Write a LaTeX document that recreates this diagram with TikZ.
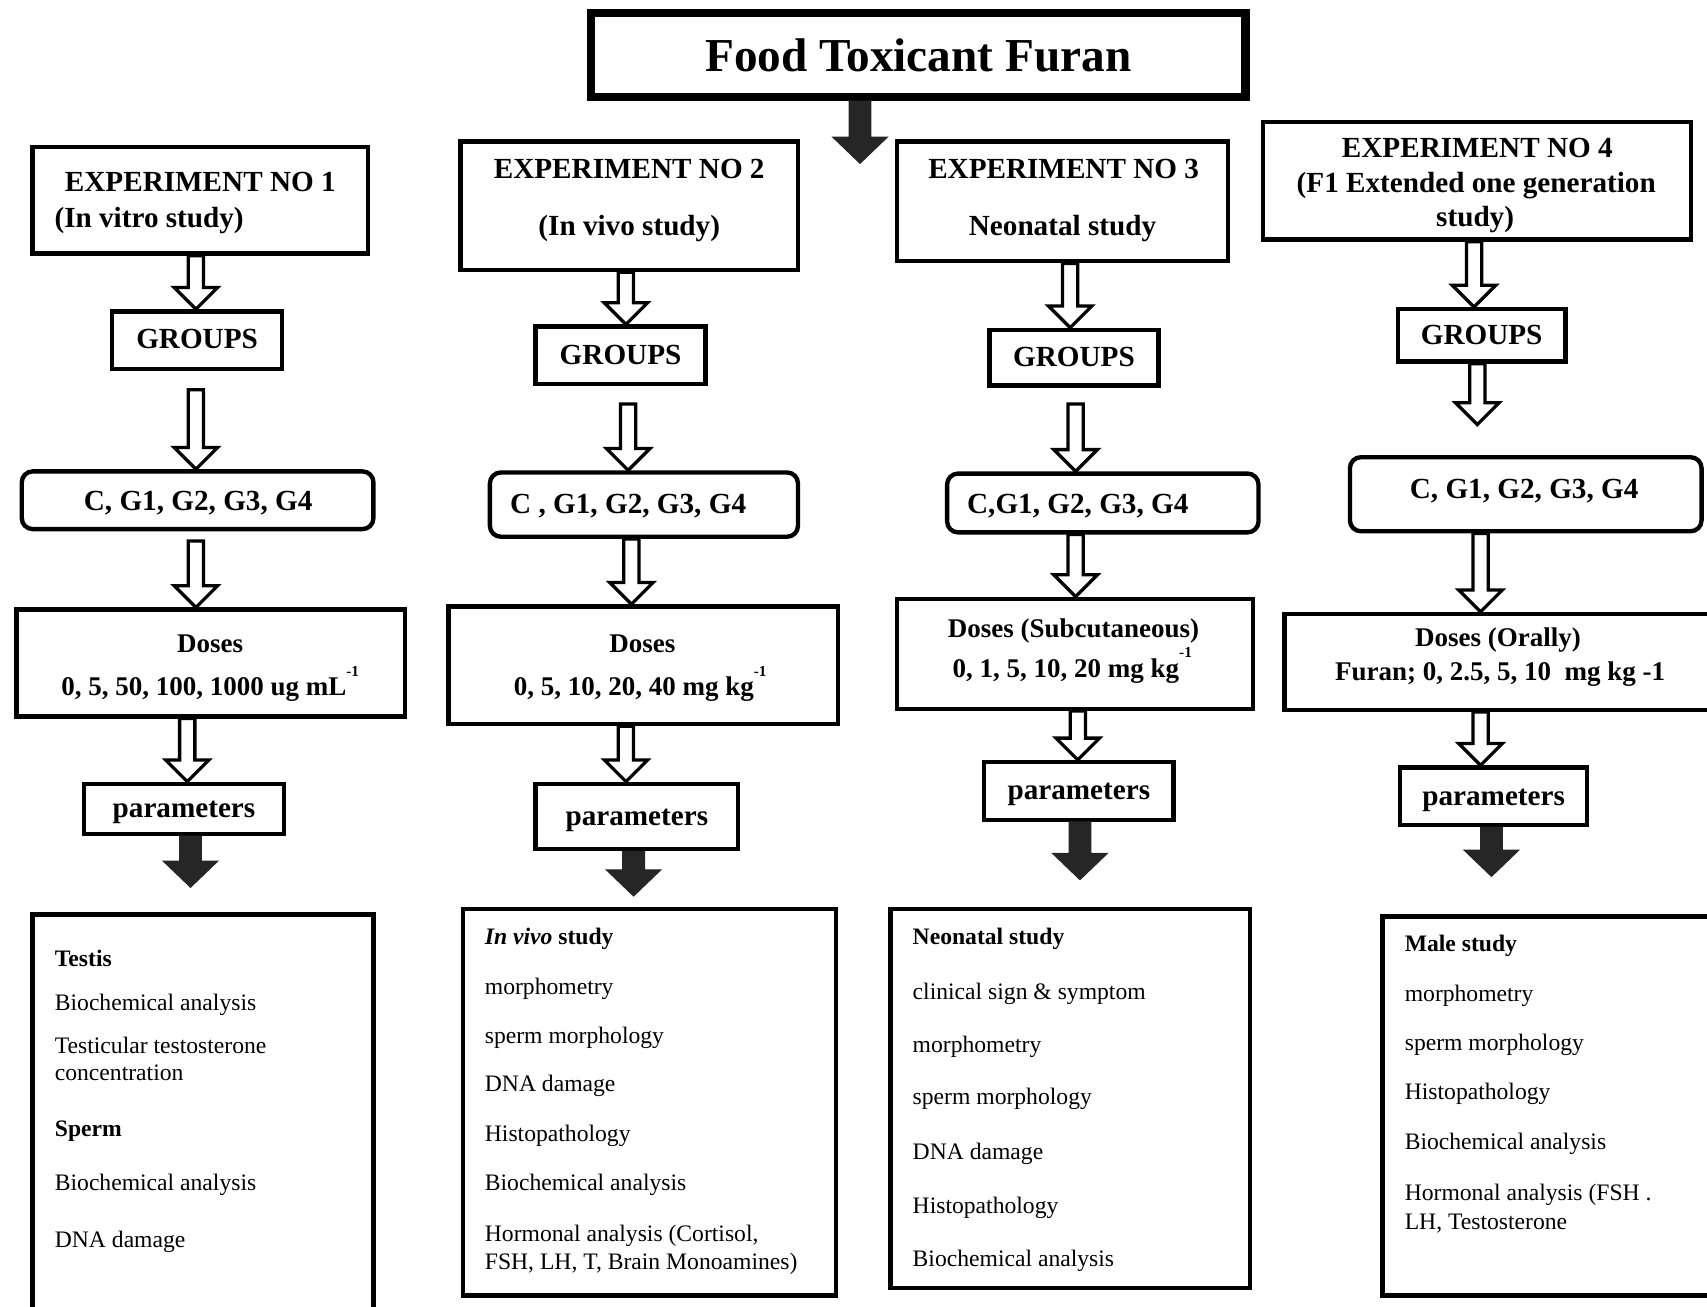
\documentclass[tikz,border=0pt]{standalone}
\usepackage{fontspec}
\setmainfont{Liberation Serif}
\usetikzlibrary{calc}
\newcommand\supmone{\raisebox{0.72em}{\fontsize{7}{7}\selectfont -1}}
% #1 style, #2 start, #3 end (only y used), #4 shaft half width, #5 head half width, #6 head length
\newcommand\varrow[6]{%
  \path[#1] let \p1=#2, \p2=#3 in
    (\x1-#4,\y1) -- (\x1+#4,\y1) -- (\x1+#4,\y2+#6) -- (\x1+#5,\y2+#6) -- (\x1,\y2)
    -- (\x1-#5,\y2+#6) -- (\x1-#4,\y2+#6) -- cycle;}
\newcommand\harrow[2]{\varrow{hol}{#1}{#2}{3.5pt}{10pt}{10pt}}
\newcommand\sarrow[2]{\varrow{sol}{#1}{#2}{5pt}{12.5pt}{12pt}}
\begin{document}
\begin{tikzpicture}[x=0.5pt,y=-0.5pt,
  wh/.style 2 args={minimum width=#1*0.5pt, minimum height=#2*0.5pt},
  box/.style={draw=black, line width=2pt, inner sep=0pt},
  rbox/.style={box, rounded corners=5pt},
  hdr/.style={font=\fontsize{13.4}{16}\selectfont\bfseries, inner sep=0pt, text height=0.95em, text depth=0.15em},
  dose/.style={font=\fontsize{12.4}{15}\selectfont\bfseries, inner sep=0pt, text height=0.95em, text depth=0.15em},
  rt/.style={font=\fontsize{10.85}{13}\selectfont, anchor=west, inner sep=0pt, text height=0.92em, text depth=0.14em},
  hol/.style={draw=black, fill=white, line width=1.5pt, line join=miter},
  sol/.style={draw=black!85, fill=black!85, line width=0.5pt, line join=miter}]
\clip (0,0) rectangle (1568,1200);
\fill[white] (0,0) rectangle (1568,1200);

% title
\node[box, line width=4pt, wh={601}{77}, font=\fontsize{21.7}{26}\selectfont\bfseries] (title) at (843.5,50.5) {Food Toxicant Furan};
\coordinate (tend) at (790,150);
\sarrow{($(title.south)+(-53.5,0)$)}{(tend)}

% experiment boxes
\node[box, wh={308}{98}] (e1) at (184,184) {};
\node[hdr] (e1a) at (184,168) {EXPERIMENT NO 1};
\node[hdr] (e1b) at (137,201) {(In vitro study)};
\node[box, wh={310}{118}] (e2) at (578,189) {};
\node[hdr] (e2a) at (578,156) {EXPERIMENT NO 2};
\node[hdr] (e2b) at (578,208) {(In vivo study)};
\node[box, wh={304}{110}] (e3) at (976,185) {};
\node[hdr] (e3a) at (977,156) {EXPERIMENT NO 3};
\node[hdr] (e3b) at (976,208) {Neonatal study};
\node[box, wh={393}{108}] (e4) at (1356.5,166) {};
\node[hdr] (e4a) at (1357,137) {EXPERIMENT NO 4};
\node[hdr] (e4b) at (1356,169) {(F1 Extended one generation};
\node[hdr] (e4c) at (1355,200) {study)};

% groups
\node[box, hdr, wh={156}{53}] (g1) at (181,312.5) {GROUPS};
\node[box, hdr, wh={156}{53}] (g2) at (570,326.5) {GROUPS};
\node[box, hdr, wh={155}{51}] (g3) at (986.5,328.5) {GROUPS};
\node[box, hdr, wh={154}{48}] (g4) at (1361,308) {GROUPS};

% C, G boxes
\node[rbox, wh={323}{53}] (c1) at (181.5,459.5) {};
\node[hdr] (c1t) at (182,461) {C, G1, G2, G3, G4};
\node[rbox, wh={283}{59}] (c2) at (591.5,463.5) {};
\node[hdr] (c2t) at (577,464) {C , G1, G2, G3, G4};
\node[rbox, wh={286}{54}] (c3) at (1013,462) {};
\node[hdr] (c3t) at (990,464) {C,G1, G2, G3, G4};
\node[rbox, wh={323}{68}] (c4) at (1401.5,454) {};
\node[hdr] (c4t) at (1400,450) {C, G1, G2, G3, G4};

% doses
\node[box, wh={357}{98}] (d1) at (193.5,609) {};
\node[dose] (d1a) at (193,591) {Doses};
\node[dose] (d1b) at (193,631) {0, 5, 50, 100, 1000 ug mL\supmone};
\node[box, wh={358}{108}] (d2) at (591,611) {};
\node[dose] (d2a) at (590,591) {Doses};
\node[dose] (d2b) at (588,631) {0, 5, 10, 20, 40 mg kg\supmone};
\node[box, wh={327}{101}] (d3) at (987.5,600.5) {};
\node[dose] (d3a) at (986,578) {Doses (Subcutaneous)};
\node[dose] (d3b) at (985,614) {0, 1, 5, 10, 20 mg kg\supmone};
\node[box, wh={398}{88}] (d4) at (1379,608) {};
\node[dose] (d4a) at (1376,586) {Doses (Orally)};
\node[dose] (d4b) at (1378,617) {Furan; 0, 2.5, 5, 10~ mg kg -1};

% parameters
\node[box, hdr, wh={184}{46}] (p1) at (169,743) {parameters};
\node[box, hdr, wh={186}{60}] (p2) at (585,750) {parameters};
\node[box, hdr, wh={174}{53}] (p3) at (991,726.5) {parameters};
\node[box, hdr, wh={172}{53}] (p4) at (1372,731.5) {parameters};

% result boxes
\node[box, wh={313}{373}] (r1) at (186.5,1026.5) {};
\node[rt] (r1a) at (50,880) {\textbf{Testis}};
\node[rt] (r1b) at (50,920) {Biochemical analysis};
\node[rt] (r1c) at (50,960) {Testicular testosterone};
\node[rt] (r1d) at (50,985) {concentration};
\node[rt] (r1e) at (50,1036) {\textbf{Sperm}};
\node[rt] (r1f) at (50,1086) {Biochemical analysis};
\node[rt] (r1g) at (50,1138) {DNA damage};

\node[box, wh={343}{355}] (r2) at (596.5,1012.5) {};
\node[rt] (r2a) at (445,860) {\textbf{\textit{In vivo}} \textbf{study}};
\node[rt] (r2b) at (445,906) {morphometry};
\node[rt] (r2c) at (445,951) {sperm morphology};
\node[rt] (r2d) at (445,995) {DNA damage};
\node[rt] (r2e) at (445,1041) {Histopathology};
\node[rt] (r2f) at (445,1086) {Biochemical analysis};
\node[rt] (r2g) at (445,1133) {Hormonal analysis (Cortisol,};
\node[rt] (r2h) at (445,1158) {FSH, LH, T, Brain Monoamines)};

\node[box, wh={330}{348}] (r3) at (983,1009) {};
\node[rt] (r3a) at (838,860) {\textbf{Neonatal study}};
\node[rt] (r3b) at (838,910) {clinical sign \& symptom};
\node[rt] (r3c) at (838,959) {morphometry};
\node[rt] (r3d) at (838,1007) {sperm morphology};
\node[rt] (r3e) at (838,1057) {DNA damage};
\node[rt] (r3f) at (838,1107) {Histopathology};
\node[rt] (r3g) at (838,1156) {Biochemical analysis};

\node[box, wh={308}{348}] (r4) at (1424,1016) {};
\node[rt] (r4a) at (1290,866) {\textbf{Male study}};
\node[rt] (r4b) at (1290,912) {morphometry};
\node[rt] (r4c) at (1290,957) {sperm morphology};
\node[rt] (r4d) at (1290,1002) {Histopathology};
\node[rt] (r4e) at (1290,1048) {Biochemical analysis};
\node[rt] (r4f) at (1290,1095) {Hormonal analysis (FSH .};
\node[rt] (r4g) at (1290,1122) {LH, Testosterone};

% hollow arrows
\harrow{($(e1.south)+(-4,0)$)}{(g1.north)}
\harrow{($(g1.south)+(-1,17)$)}{(c1.north)}
\harrow{($(c1.south)+(-1.5,9)$)}{(d1.north)}
\harrow{($(d1.south)+(-21.5,0)$)}{(p1.north)}

\harrow{($(e2.south)+(-3,0)$)}{(g2.north)}
\harrow{($(g2.south)+(7,16)$)}{(c2.north)}
\harrow{($(c2.south)+(-11.5,0)$)}{(d2.north)}
\harrow{($(d2.south)+(-16,0)$)}{(p2.north)}

\harrow{($(e3.south)+(7,0)$)}{(g3.north)}
\harrow{($(g3.south)+(1.5,15)$)}{(c3.north)}
\harrow{($(c3.south)+(-25,0)$)}{(d3.north)}
\harrow{($(d3.south)+(2.5,0)$)}{(p3.north)}

\harrow{($(e4.south)+(-2.5,0)$)}{(g4.north)}
\harrow{($(g4.south)+(-4,0)$)}{($(c4.north)+(0,-28)$)}
\harrow{($(c4.south)+(-41.5,0)$)}{(d4.north)}
\harrow{($(d4.south)+(-19,0)$)}{(p4.north)}

% solid arrows
\sarrow{($(p1.south)+(6,0)$)}{($(r1.north)+(0,-23)$)}
\sarrow{($(p2.south)+(-3,0)$)}{($(r2.north)+(0,-10)$)}
\sarrow{($(p3.south)+(1,0)$)}{($(r3.north)+(0,-25)$)}
\sarrow{($(p4.south)+(-2,0)$)}{($(r4.north)+(0,-35)$)}
\end{tikzpicture}
\end{document}
